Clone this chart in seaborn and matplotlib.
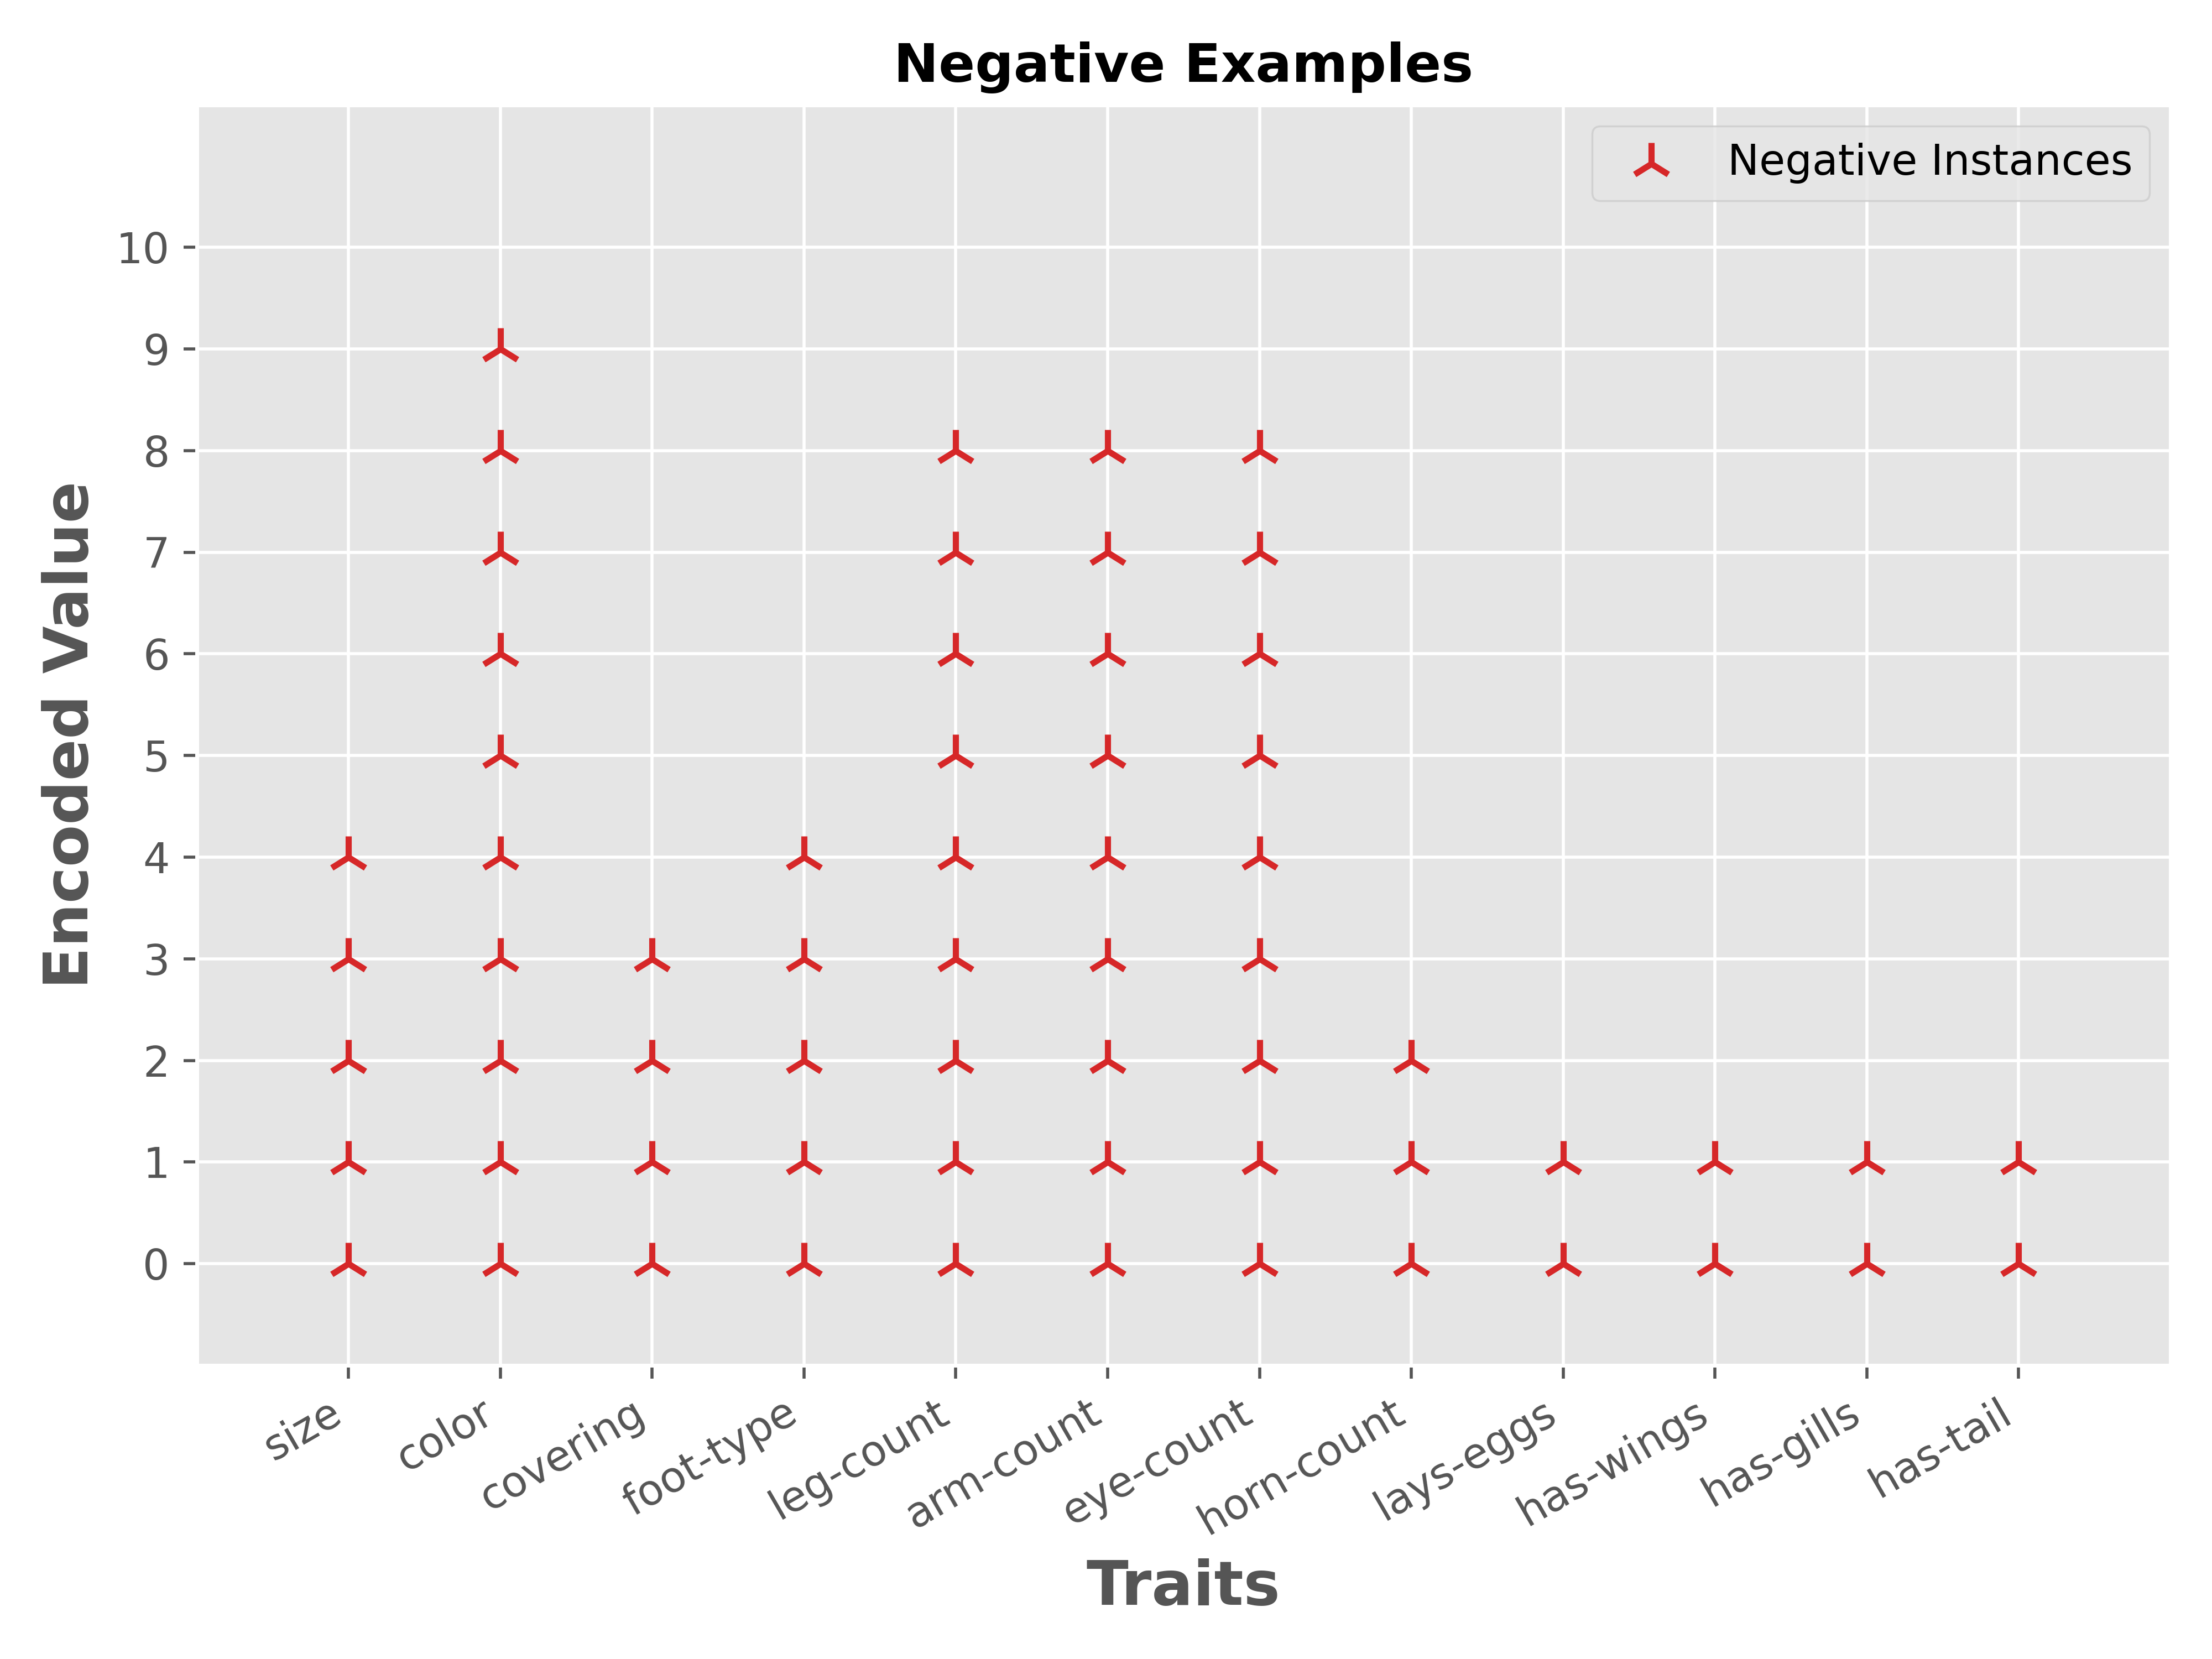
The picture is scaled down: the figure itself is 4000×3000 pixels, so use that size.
import matplotlib
matplotlib.use("Agg")
import matplotlib.pyplot as plt
import seaborn as sns
import pandas as pd

traits = ["size", "color", "covering", "foot-type", "leg-count", "arm-count",
          "eye-count", "horn-count", "lays-eggs", "has-wings", "has-gills", "has-tail"]
max_values = [4, 9, 3, 4, 8, 8, 8, 2, 1, 1, 1, 1]

rows = []
for i, (t, m) in enumerate(zip(traits, max_values)):
    for v in range(m + 1):
        rows.append({"x": i, "value": v})
df = pd.DataFrame(rows)

plt.style.use("ggplot")
fig, ax = plt.subplots(figsize=(8, 6), dpi=500)
sns.scatterplot(data=df, x="x", y="value", marker="2", color="#d62728",
                s=120, linewidth=1.6, ax=ax, label="Negative Instances")
ax.set_xticks(range(len(traits)))
ax.set_xticklabels(traits, rotation=30, ha="right", fontsize=11)
ax.set_yticks(range(0, 11))
ax.tick_params(axis="y", labelsize=11)
ax.set_xlim(-1, 12)
ax.set_ylim(-1, 11.4)
ax.set_xlabel("Traits", fontsize=16, fontweight="bold")
ax.set_ylabel("Encoded Value", fontsize=16, fontweight="bold")
ax.set_title("Negative Examples", fontsize=14, fontweight="bold")
ax.legend(loc="upper right", fontsize=11)
fig.tight_layout()
fig.savefig("out.png", dpi=500)
